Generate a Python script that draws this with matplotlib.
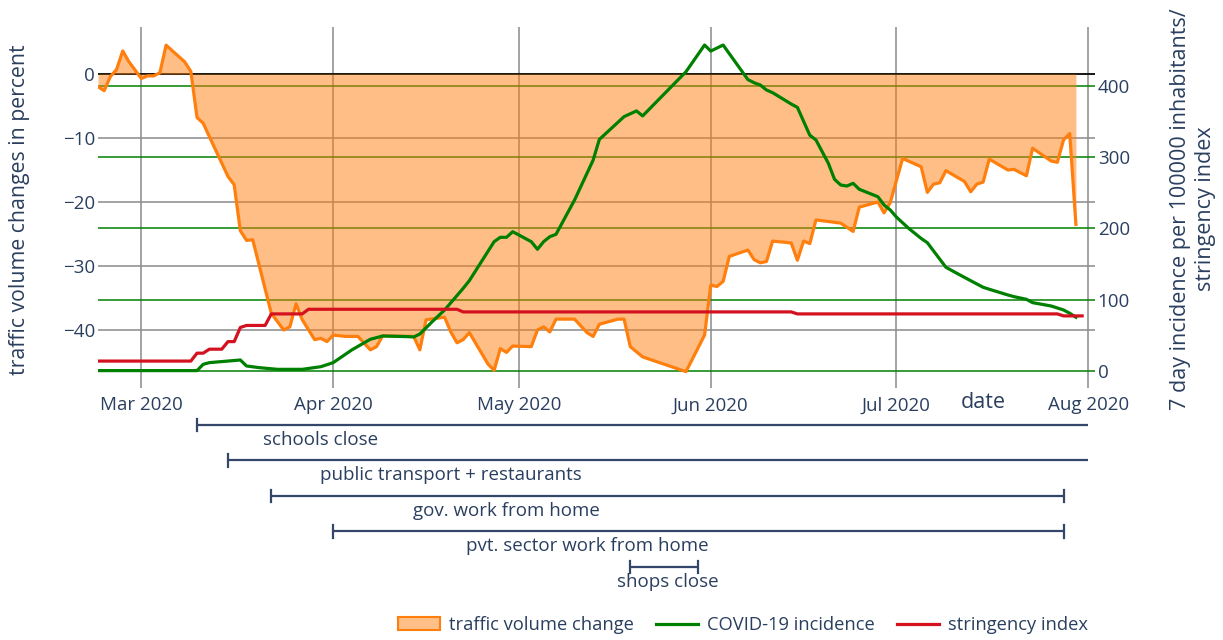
import numpy as np
import pandas as pd
import matplotlib
matplotlib.use("Agg")
import matplotlib.pyplot as plt
import matplotlib.dates as mdates
from matplotlib.patches import Patch
from matplotlib.lines import Line2D

plt.rcParams['font.family'] = ['Open Sans', 'DejaVu Sans']
TXT = '#2a3f5f'

# traffic volume change in percent (left axis)
traffic_dates = ['2020-02-23', '2020-02-24', '2020-02-25', '2020-02-26', '2020-02-27', '2020-02-28',
                 '2020-02-29', '2020-03-01', '2020-03-02', '2020-03-03', '2020-03-04', '2020-03-05',
                 '2020-03-08', '2020-03-09', '2020-03-10', '2020-03-11', '2020-03-12', '2020-03-15',
                 '2020-03-16', '2020-03-17', '2020-03-18', '2020-03-19', '2020-03-22', '2020-03-23',
                 '2020-03-24', '2020-03-25', '2020-03-26', '2020-03-27', '2020-03-29', '2020-03-30',
                 '2020-03-31', '2020-04-01', '2020-04-03', '2020-04-05', '2020-04-07', '2020-04-08',
                 '2020-04-09', '2020-04-14', '2020-04-15', '2020-04-16', '2020-04-19', '2020-04-20',
                 '2020-04-21', '2020-04-22', '2020-04-23', '2020-04-26', '2020-04-27', '2020-04-28',
                 '2020-04-29', '2020-04-30', '2020-05-03', '2020-05-04', '2020-05-05', '2020-05-06',
                 '2020-05-07', '2020-05-10', '2020-05-12', '2020-05-13', '2020-05-14', '2020-05-17',
                 '2020-05-18', '2020-05-19', '2020-05-21', '2020-05-28', '2020-05-31', '2020-06-01',
                 '2020-06-02', '2020-06-03', '2020-06-04', '2020-06-07', '2020-06-08', '2020-06-09',
                 '2020-06-10', '2020-06-11', '2020-06-14', '2020-06-15', '2020-06-16', '2020-06-17',
                 '2020-06-18', '2020-06-22', '2020-06-24', '2020-06-25', '2020-06-28', '2020-06-29',
                 '2020-06-30', '2020-07-02', '2020-07-05', '2020-07-06', '2020-07-07', '2020-07-08',
                 '2020-07-09', '2020-07-12', '2020-07-13', '2020-07-14', '2020-07-15', '2020-07-16',
                 '2020-07-19', '2020-07-20', '2020-07-22', '2020-07-23', '2020-07-26', '2020-07-27',
                 '2020-07-28', '2020-07-29', '2020-07-30']
traffic = [-2.0, -2.6, -0.4, 0.7, 3.6, 1.9,
           0.6, -0.7, -0.3, -0.3, 0.2, 4.5,
           1.9, 0.4, -6.8, -7.7, -9.8, -16.0,
           -17.3, -24.5, -26.0, -25.9, -37.4, -38.7,
           -40.0, -39.5, -35.9, -38.4, -41.5, -41.3,
           -41.8, -40.8, -41.0, -41.0, -43.1, -42.6,
           -40.9, -41.0, -43.1, -38.4, -38.0, -40.3,
           -42.0, -41.5, -40.4, -45.3, -46.3, -42.9,
           -43.5, -42.5, -42.6, -40.0, -39.5, -40.3,
           -38.3, -38.3, -40.4, -41.0, -39.1, -38.3,
           -38.3, -42.6, -44.2, -46.5, -40.8, -33.0,
           -33.2, -32.4, -28.5, -27.5, -29.0, -29.5,
           -29.3, -26.1, -26.4, -29.1, -26.1, -26.5,
           -22.8, -23.3, -24.6, -20.8, -20.0, -21.7,
           -20.1, -13.2, -14.5, -18.5, -17.2, -17.0,
           -15.1, -16.8, -18.4, -17.2, -16.9, -13.3,
           -15.0, -14.9, -15.9, -11.6, -13.6, -13.8,
           -10.3, -9.3, -23.5]

# 7 day incidence per 100000 inhabitants (right axis)
covid_dates = ['2020-02-23', '2020-03-10', '2020-03-11', '2020-03-12', '2020-03-17', '2020-03-18',
               '2020-03-20', '2020-03-23', '2020-03-27', '2020-03-30', '2020-04-01', '2020-04-04',
               '2020-04-07', '2020-04-09', '2020-04-13', '2020-04-14', '2020-04-15', '2020-04-17',
               '2020-04-19', '2020-04-22', '2020-04-23', '2020-04-27', '2020-04-28', '2020-04-29',
               '2020-04-30', '2020-05-03', '2020-05-04', '2020-05-05', '2020-05-06', '2020-05-07',
               '2020-05-10', '2020-05-13', '2020-05-14', '2020-05-18', '2020-05-20', '2020-05-21',
               '2020-05-28', '2020-05-31', '2020-06-01', '2020-06-03', '2020-06-07', '2020-06-08',
               '2020-06-09', '2020-06-10', '2020-06-11', '2020-06-14', '2020-06-15', '2020-06-17',
               '2020-06-18', '2020-06-20', '2020-06-21', '2020-06-22', '2020-06-23', '2020-06-24',
               '2020-06-25', '2020-06-28', '2020-06-29', '2020-06-30', '2020-07-01', '2020-07-03',
               '2020-07-05', '2020-07-06', '2020-07-09', '2020-07-11', '2020-07-13', '2020-07-15',
               '2020-07-16', '2020-07-19', '2020-07-20', '2020-07-22', '2020-07-23', '2020-07-26',
               '2020-07-28', '2020-07-29', '2020-07-30']
covid = [0.5, 0.5, 9.4, 11.7, 15.4, 7.0,
         4.7, 2.3, 2.3, 6.0, 11.7, 29.5,
         44.5, 49.1, 48.2, 47.7, 51.9, 69.2,
         85.6, 116.0, 126.8, 181.5, 187.6, 187.6,
         195.5, 181.5, 170.8, 181.5, 188.5, 191.8,
         240.0, 296.0, 325.0, 357.0, 365.0, 358.0,
         420.0, 457.5, 449.0, 457.5, 409.0, 404.6,
         401.4, 394.4, 390.6, 374.7, 370.0, 331.0,
         324.2, 291.5, 269.0, 261.0, 259.6, 263.4,
         255.0, 244.6, 233.0, 226.0, 216.0, 200.0,
         186.0, 180.0, 145.5, 136.0, 126.7, 117.5,
         114.7, 106.7, 104.3, 100.6, 95.9, 91.2,
         85.6, 81.0, 75.4]

# stringency index (right axis)
string_dates = ['2020-02-23', '2020-03-09', '2020-03-10', '2020-03-11', '2020-03-12', '2020-03-14',
                '2020-03-15', '2020-03-16', '2020-03-17', '2020-03-18', '2020-03-21', '2020-03-22',
                '2020-03-27', '2020-03-28', '2020-04-21', '2020-04-22', '2020-06-14', '2020-06-15',
                '2020-07-27', '2020-07-28', '2020-07-31']
stringency = [13.9, 13.9, 25.0, 25.0, 30.6, 30.6,
              41.2, 41.2, 61.1, 63.9, 63.9, 80.1,
              80.1, 86.6, 86.6, 82.9, 82.9, 80.1,
              80.1, 77.3, 77.3]

# measures
measures = ['schools close', 'public transport + restaurants', 'gov. work from home',
            'pvt. sector work from home', 'shops close']
measure_start = ['2020-03-10', '2020-03-15', '2020-03-22', '2020-04-01', '2020-05-19']
measure_end = ['2020-08-01', '2020-08-01', '2020-07-28', '2020-07-28', '2020-05-30']
measure_end_cap = [False, False, True, True, True]
measure_label_at = ['2020-03-30', '2020-04-20', '2020-04-29', '2020-05-12', '2020-05-25']

td = pd.to_datetime(traffic_dates)
cd = pd.to_datetime(covid_dates)
sd = pd.to_datetime(string_dates)

W, H = 1223, 640
fig = plt.figure(figsize=(W / 100, H / 100), dpi=100)
L, R, T, B = 98, 1095, 27, 388
ax = fig.add_axes([L / W, 1 - B / H, (R - L) / W, (B - T) / H])
axr = ax.twinx()

ax.set_xlim(pd.Timestamp('2020-02-23'), pd.Timestamp('2020-08-02 02:00'))
ax.set_ylim(-49.06, 7.34)
axr.set_ylim(-23.9, 482.8)

for a in (ax, axr):
    for s in a.spines.values():
        s.set_visible(False)
    a.set_axisbelow(True)

ax.set_yticks([-40, -30, -20, -10, 0])
ax.grid(True, color='#8a8a8a', lw=1.1)
ax.axhline(0, color='black', lw=1.2, zorder=0.8)
ax.xaxis.set_major_locator(mdates.MonthLocator())
ax.xaxis.set_major_formatter(mdates.DateFormatter('%b %Y'))
ax.tick_params(axis='both', length=0, labelsize=13.5, labelcolor=TXT)
ax.tick_params(axis='x', pad=6)
ax.tick_params(axis='y', pad=2)

axr.set_yticks([0, 100, 200, 300, 400])
axr.yaxis.grid(True, color='green', lw=1.1)
axr.tick_params(axis='y', length=0, pad=2, labelsize=13.5, labelcolor=TXT)

# traffic drawn on the right axes so it sits above all gridlines
axr.fill_between(td, traffic, 0, transform=ax.transData, color='#ff7f0e', alpha=0.5,
                 lw=0, zorder=1)
axr.plot(td, traffic, transform=ax.transData, color='#ff7f0e', lw=2.3, zorder=2)
axr.plot(cd, covid, color='green', lw=2.3, zorder=3)
axr.plot(sd, stringency, color='#d3111f', lw=2.3, zorder=3)

fig.text(20 / W, 1 - 210 / H, 'traffic volume changes in percent', rotation=90,
         ha='center', va='center', fontsize=15.3, color=TXT)
fig.text(1193 / W, 1 - 209 / H, '7 day incidence per 100000 inhabitants/\nstringency index',
         rotation=90, ha='center', va='center', fontsize=15.5, color=TXT,
         multialignment='center', linespacing=1.3)
fig.text(983 / W, 1 - 403 / H, 'date', ha='center', va='center', fontsize=15.5, color=TXT)

# measures below the chart
ann = fig.add_axes([L / W, 1 - 600 / H, (R - L) / W, 190 / H], sharex=ax)
ann.set_ylim(4.93, -0.4225)
ann.axis('off')
NAVY = '#34466a'
for i, name in enumerate(measures):
    s = pd.Timestamp(measure_start[i])
    e = pd.Timestamp(measure_end[i])
    ann.plot([s, e], [i, i], color=NAVY, lw=1.6, solid_capstyle='butt')
    ann.plot([s, s], [i - 0.17, i + 0.17], color=NAVY, lw=1.6)
    if measure_end_cap[i]:
        ann.plot([e, e], [i - 0.17, i + 0.17], color=NAVY, lw=1.6)
    ann.text(pd.Timestamp(measure_label_at[i]), i + 0.42, name, ha='center', va='center',
             fontsize=13.5, color=TXT)
ax.set_xlim(pd.Timestamp('2020-02-23'), pd.Timestamp('2020-08-02 02:00'))

handles = [Patch(facecolor='#ffbf86', edgecolor='#ff7f0e', lw=1.5),
           Line2D([], [], color='green', lw=2.3),
           Line2D([], [], color='#d3111f', lw=2.3)]
fig.legend(handles, ['traffic volume change', 'COVID-19 incidence', 'stringency index'],
           loc='center', bbox_to_anchor=(743 / W, 1 - 625 / H), ncol=3, frameon=False,
           fontsize=13.2, labelcolor=TXT, handlelength=2.3, handletextpad=0.5,
           columnspacing=1.2)

fig.savefig('out.png', dpi=100)
